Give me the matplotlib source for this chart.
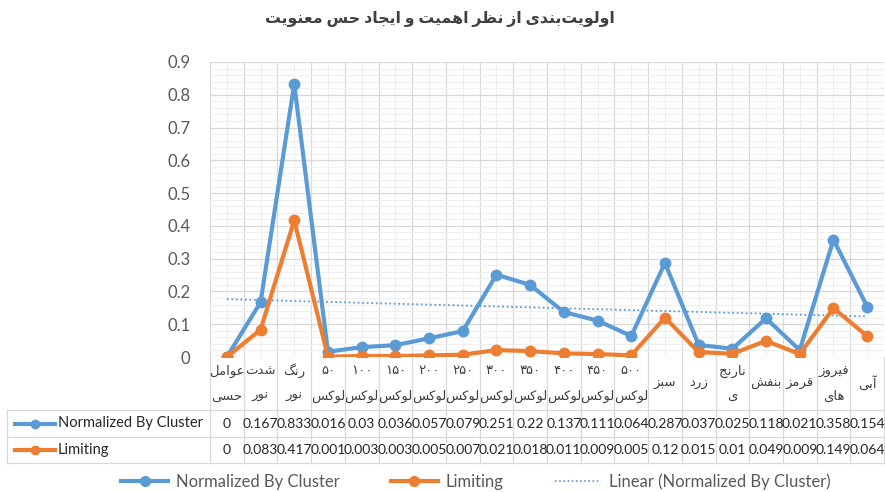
import numpy as np
import matplotlib
matplotlib.use("Agg")
import matplotlib.pyplot as plt
from matplotlib.lines import Line2D
from matplotlib.ticker import MultipleLocator
import matplotlib.transforms as mtransforms

plt.rcParams['font.family'] = ['Lato', 'DejaVu Sans']

# ---------------- data ----------------
title = "اولویت\u200cبندی از نظر اهمیت و ایجاد حس معنویت"
categories = ["عوامل\nحسی", "شدت\nنور", "رنگ\nنور",
              "۵۰\nلوکس", "۱۰۰\nلوکس", "۱۵۰\nلوکس", "۲۰۰\nلوکس", "۲۵۰\nلوکس",
              "۳۰۰\nلوکس", "۳۵۰\nلوکس", "۴۰۰\nلوکس", "۴۵۰\nلوکس", "۵۰۰\nلوکس",
              "سبز", "زرد", "نارنج\nی", "بنفش", "قرمز", "فیروز\nهای", "آبی"]
normalized = [0, 0.167, 0.833, 0.016, 0.03, 0.036, 0.057, 0.079, 0.251, 0.22,
              0.137, 0.111, 0.064, 0.287, 0.037, 0.025, 0.118, 0.021, 0.358, 0.154]
normalized_lbl = ["0", "0.167", "0.833", "0.016", "0.03", "0.036", "0.057", "0.079",
                  "0.251", "0.22", "0.137", "0.111", "0.064", "0.287", "0.037",
                  "0.025", "0.118", "0.021", "0.358", "0.154"]
limiting = [0, 0.083, 0.417, 0.001, 0.003, 0.003, 0.005, 0.007, 0.021, 0.018,
            0.011, 0.009, 0.005, 0.12, 0.015, 0.01, 0.049, 0.009, 0.149, 0.064]
limiting_lbl = ["0", "0.083", "0.417", "0.001", "0.003", "0.003", "0.005", "0.007",
                "0.021", "0.018", "0.011", "0.009", "0.005", "0.12", "0.015",
                "0.01", "0.049", "0.009", "0.149", "0.064"]
series_names = ["Normalized By Cluster", "Limiting"]
trend_name = "Linear (Normalized By Cluster)"

# ---------------- simple Persian shaping ----------------
FORMS = {  # isolated, final, initial, medial
    'ا': ('\uFE8D', '\uFE8E', None, None),
    'آ': ('\uFE81', '\uFE82', None, None),
    'ب': ('\uFE8F', '\uFE90', '\uFE91', '\uFE92'),
    'ت': ('\uFE95', '\uFE96', '\uFE97', '\uFE98'),
    'ج': ('\uFE9D', '\uFE9E', '\uFE9F', '\uFEA0'),
    'ح': ('\uFEA1', '\uFEA2', '\uFEA3', '\uFEA4'),
    'د': ('\uFEA9', '\uFEAA', None, None),
    'ر': ('\uFEAD', '\uFEAE', None, None),
    'ز': ('\uFEAF', '\uFEB0', None, None),
    'س': ('\uFEB1', '\uFEB2', '\uFEB3', '\uFEB4'),
    'ش': ('\uFEB5', '\uFEB6', '\uFEB7', '\uFEB8'),
    'ظ': ('\uFEC5', '\uFEC6', '\uFEC7', '\uFEC8'),
    'ع': ('\uFEC9', '\uFECA', '\uFECB', '\uFECC'),
    'ف': ('\uFED1', '\uFED2', '\uFED3', '\uFED4'),
    'ق': ('\uFED5', '\uFED6', '\uFED7', '\uFED8'),
    'ک': ('\uFB8E', '\uFB8F', '\uFB90', '\uFB91'),
    'گ': ('\uFB92', '\uFB93', '\uFB94', '\uFB95'),
    'ل': ('\uFEDD', '\uFEDE', '\uFEDF', '\uFEE0'),
    'م': ('\uFEE1', '\uFEE2', '\uFEE3', '\uFEE4'),
    'ن': ('\uFEE5', '\uFEE6', '\uFEE7', '\uFEE8'),
    'و': ('\uFEED', '\uFEEE', None, None),
    'ه': ('\uFEE9', '\uFEEA', '\uFEEB', '\uFEEC'),
    'ی': ('\uFBFC', '\uFBFD', '\uFBFE', '\uFBFF'),
}


def shape(s):
    if all(ch in '۰۱۲۳۴۵۶۷۸۹0123456789.' for ch in s):
        return s
    out = []
    n = len(s)
    for i, ch in enumerate(s):
        if ch not in FORMS:
            if ch != '\u200c':
                out.append(ch)
            continue
        f = FORMS[ch]
        prev = s[i - 1] if i > 0 else ''
        nxt = s[i + 1] if i + 1 < n else ''
        pj = prev in FORMS and FORMS[prev][2] is not None
        nj = nxt in FORMS and f[2] is not None
        if pj and nj:
            out.append(f[3])
        elif pj:
            out.append(f[1])
        elif nj:
            out.append(f[2])
        else:
            out.append(f[0])
    return ''.join(out)[::-1]


# ---------------- figure ----------------
W, H = 885, 492
fig = plt.figure(figsize=(W / 100, H / 100), dpi=100)
ax_l, ax_r, ax_t, ax_b = 210, 884, 62, 357
ax = fig.add_axes([ax_l / W, 1 - ax_b / H, (ax_r - ax_l) / W, (ax_b - ax_t) / H])

blue = '#5B9BD5'
orange = '#ED7D31'
grid_major = '#D9D9D9'
grid_minor = '#EFEFEF'
txt = '#595959'

x = np.arange(len(categories))
ax.plot(x, normalized, color=blue, lw=3, marker='o', ms=7.5, zorder=4, solid_joinstyle='round')
ax.plot(x, limiting, color=orange, lw=3, marker='o', ms=7.5, zorder=4, solid_joinstyle='round')
coef = np.polyfit(x, normalized, 1)
ax.plot(x, np.polyval(coef, x), color=blue, lw=1.3, ls=(0, (1, 1.5)), zorder=3)

ax.set_xlim(-0.5, len(categories) - 0.5)
ax.set_ylim(0, 0.9)
ax.yaxis.set_major_locator(MultipleLocator(0.1))
ax.yaxis.set_minor_locator(MultipleLocator(0.02))
ax.set_xticks(np.arange(-0.5, len(categories)))
ax.set_xticks(x, minor=True)
ax.set_xticklabels([])
ax.set_yticks(np.arange(0, 0.91, 0.1))
ax.set_yticklabels(['0'] + [f'{v:.1f}' for v in np.arange(0.1, 0.91, 0.1)])
ax.tick_params(axis='both', which='both', length=0)
ax.tick_params(axis='y', labelsize=12, labelcolor=txt, pad=14)
ax.grid(which='major', color=grid_major, lw=0.9)
ax.grid(which='minor', color=grid_minor, lw=0.8)
ax.set_axisbelow(True)
for sp in ax.spines.values():
    sp.set_visible(False)

fig.text(0.497, 1 - 19 / H, shape(title), ha='center', va='center',
         fontsize=11.3, fontweight='bold', color='#404040')

# ---------------- data table ----------------
ah = ax_b - ax_t
aw = ax_r - ax_l


def ya(p):
    return (ax_b - p) / ah


def xa(p):
    return (p - ax_l) / aw


blend = mtransforms.blended_transform_factory(ax.transData, ax.transAxes)
row1, row2, row3 = 410, 437, 463
for b in np.arange(-0.5, len(categories)):
    ax.plot([b, b], [0, ya(row3)], color=grid_major, lw=0.9, transform=blend, clip_on=False)
for p in (row1, row2, row3):
    ax.plot([xa(7), 1], [ya(p), ya(p)], color=grid_major, lw=0.9,
            transform=ax.transAxes, clip_on=False)
ax.plot([xa(7), xa(7)], [ya(row1), ya(row3)], color=grid_major, lw=0.9,
        transform=ax.transAxes, clip_on=False)

lab_kw = dict(transform=blend, ha='center', va='center', fontsize=9.5,
              color='#404040', family=['DejaVu Sans'])
for i, lab in enumerate(categories):
    lines = lab.split('\n')
    if len(lines) == 1:
        ax.text(i, ya(383), shape(lines[0]), **lab_kw)
    else:
        ax.text(i, ya(371), shape(lines[0]), **lab_kw)
        ax.text(i, ya(396), shape(lines[1]), **lab_kw)

for i in range(len(categories)):
    ax.text(i, ya((row1 + row2) / 2), normalized_lbl[i], transform=blend, ha='center',
            va='center', fontsize=10, color='#262626')
    ax.text(i, ya((row2 + row3) / 2), limiting_lbl[i], transform=blend, ha='center',
            va='center', fontsize=10, color='#262626')

for (name, col, p0, p1) in [(series_names[0], blue, row1, row2), (series_names[1], orange, row2, row3)]:
    yc = ya((p0 + p1) / 2)
    ax.plot([xa(15), xa(55)], [yc, yc], color=col, lw=3, transform=ax.transAxes, clip_on=False)
    ax.plot([xa(35)], [yc], color=col, marker='o', ms=6, transform=ax.transAxes, clip_on=False)
    ax.text(xa(58), yc, name, transform=ax.transAxes, ha='left', va='center',
            fontsize=10.5, color='#262626')

# ---------------- legend ----------------
handles = [Line2D([], [], color=blue, lw=3, marker='o', ms=7),
           Line2D([], [], color=orange, lw=3, marker='o', ms=7),
           Line2D([], [], color=blue, lw=1.2, ls=(0, (1, 1.5)))]
fig.legend(handles, [series_names[0], series_names[1], trend_name], ncol=3,
           loc='center', bbox_to_anchor=(476 / W, 1 - 482 / H), frameon=False,
           fontsize=12, labelcolor=txt, handlelength=2.8, handletextpad=0.45,
           columnspacing=3.1, borderpad=0, borderaxespad=0)

fig.savefig('out.png', dpi=100)
